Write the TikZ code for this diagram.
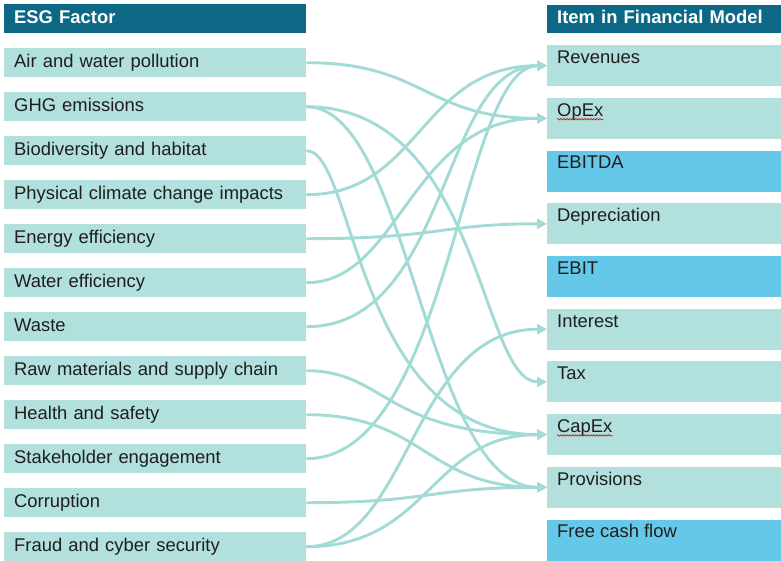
\documentclass[tikz,border=0pt]{standalone}
\usepackage{fontspec}
\setmainfont{Liberation Sans}
\usetikzlibrary{arrows.meta,decorations.pathmorphing}
\definecolor{hdr}{RGB}{12,104,132}
\definecolor{lbox}{RGB}{178,224,220}
\definecolor{bbox}{RGB}{102,200,232}
\definecolor{conncol}{RGB}{162,218,214}
\definecolor{txt}{RGB}{30,30,30}
\begin{document}
\begin{tikzpicture}[x=1pt,y=-1pt,
  every node/.style={font=\fontsize{18.4}{22}\selectfont},
  leftbox/.style={rectangle, fill=lbox, anchor=north west, minimum width=302pt, minimum height=29pt,
    text width=282pt, inner xsep=10pt, inner ysep=0pt, align=left, text=txt, text height=13.5pt, text depth=4pt},
  lefthead/.style={leftbox, fill=hdr, text=white, font=\fontsize{18.4}{22}\selectfont\bfseries},
  rightbox/.style={rectangle, fill=lbox, anchor=north west, minimum width=234pt, minimum height=41pt, inner sep=0pt},
  bluebox/.style={rightbox, fill=bbox},
  rlabel/.style={anchor=base west, inner sep=0pt, text=txt},
  righthead/.style={rectangle, fill=hdr, anchor=north west, minimum width=234pt, minimum height=28pt,
    text width=214pt, inner xsep=10pt, inner ysep=0pt, align=left, text=white,
    font=\fontsize{18.4}{22}\selectfont\bfseries, text height=13.5pt, text depth=4pt},
  conn/.style={draw=conncol, line width=2.9pt, -{Triangle[length=10pt,width=10pt]}},
  squig/.style={draw=red!75!black, line width=0.6pt, decorate, decoration={snake, amplitude=0.7pt, segment length=3pt}}
]
\useasboundingbox (0,0) rectangle (781,560);

% left column
\node[lefthead] (lh) at (4,4) {ESG Factor};
\node[leftbox] (l1) at (4,48) {Air and water pollution};
\node[leftbox] (l2) at (4,92) {GHG emissions};
\node[leftbox] (l3) at (4,136) {Biodiversity and habitat};
\node[leftbox] (l4) at (4,180) {Physical climate change impacts};
\node[leftbox] (l5) at (4,224) {Energy efficiency};
\node[leftbox] (l6) at (4,268) {Water efficiency};
\node[leftbox] (l7) at (4,312) {Waste};
\node[leftbox] (l8) at (4,356) {Raw materials and supply chain};
\node[leftbox] (l9) at (4,400) {Health and safety};
\node[leftbox] (l10) at (4,444) {Stakeholder engagement};
\node[leftbox] (l11) at (4,488) {Corruption};
\node[leftbox] (l12) at (4,532) {Fraud and cyber security};

% right column
\node[righthead] (rh) at (547,5) {Item in Financial Model};
\node[rightbox] (r1) at (547,45) {};
\node[rightbox] (r2) at (547,97.7) {};
\node[bluebox] (r3) at (547,150.4) {};
\node[rightbox] (r4) at (547,203.1) {};
\node[bluebox] (r5) at (547,255.8) {};
\node[rightbox] (r6) at (547,308.5) {};
\node[rightbox] (r7) at (547,361.2) {};
\node[rightbox] (r8) at (547,413.9) {};
\node[rightbox] (r9) at (547,466.6) {};
\node[bluebox] (r10) at (547,519.3) {};

\node[rlabel] (t1) at ([shift={(10,18.5)}]r1.north west) {Revenues};
\node[rlabel] (t2) at ([shift={(10,18.5)}]r2.north west) {OpEx};
\node[rlabel] (t3) at ([shift={(10,18.5)}]r3.north west) {EBITDA};
\node[rlabel] (t4) at ([shift={(10,18.5)}]r4.north west) {Depreciation};
\node[rlabel] (t5) at ([shift={(10,18.5)}]r5.north west) {EBIT};
\node[rlabel] (t6) at ([shift={(10,18.5)}]r6.north west) {Interest};
\node[rlabel] (t7) at ([shift={(10,18.5)}]r7.north west) {Tax};
\node[rlabel] (t8) at ([shift={(10,18.5)}]r8.north west) {CapEx};
\node[rlabel] (t9) at ([shift={(10,18.5)}]r9.north west) {Provisions};
\node[rlabel] (t10) at ([shift={(10,18.5)}]r10.north west) {Free cash flow};

\path[squig] ([yshift=-3pt]t2.base west) -- ([yshift=-3pt]t2.base east);
\path[squig] ([yshift=-3pt]t8.base west) -- ([yshift=-3pt]t8.base east);

% connectors
\draw[conn] (l1.east) .. controls +(119,0) and +(-122,0) .. (r2.west);
\draw[conn] (l2.east) .. controls +(174,0) and +(-67,0) .. (r7.west);
\draw[conn] (l2.east) .. controls +(104,0) and +(-122,0) .. (r9.west);
\draw[conn] (l3.east) .. controls +(49,0) and +(-192,0) .. (r8.west);
\draw[conn] (l4.east) .. controls +(114,0) and +(-127,0) .. (r1.west);
\draw[conn] (l5.east) .. controls +(134,0) and +(-107,0) .. (r4.west);
\draw[conn] (l6.east) .. controls +(94,0) and +(-137,0) .. (r2.west);
\draw[conn] (l7.east) .. controls +(144,0) and +(-107,0) .. (r1.west);
\draw[conn] (l8.east) .. controls +(79,0) and +(-162,0) .. (r8.west);
\draw[conn] (l9.east) .. controls +(119,0) and +(-122,0) .. (r9.west);
\draw[conn] (l10.east) .. controls +(144,0) and +(-87,0) .. (r1.west);
\draw[conn] (l11.east) .. controls +(124,0) and +(-117,0) .. (r9.west);
\draw[conn] (l12.east) .. controls +(124,0) and +(-117,0) .. (r8.west);
\draw[conn] (l12.east) .. controls +(104,0) and +(-137,0) .. (r6.west);
\end{tikzpicture}
\end{document}
